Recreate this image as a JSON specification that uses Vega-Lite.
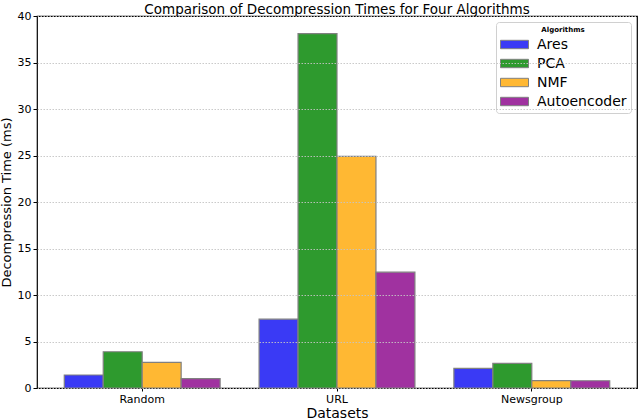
{
  "$schema": "https://vega.github.io/schema/vega-lite/v6.json",
  "width": 600,
  "height": 372,
  "autosize": "none",
  "padding": {"left": 37, "top": 16, "right": 3, "bottom": 31},
  "config": {
    "font": "DejaVu Sans",
    "view": {"stroke": "black", "strokeWidth": 1.2}
  },
  "title": {
    "text": "Comparison of Decompression Times for Four Algorithms",
    "fontSize": 13.5,
    "fontWeight": "normal",
    "color": "black",
    "anchor": "middle",
    "offset": 2,
    "dy": 8
  },
  "data": {
    "values": [
      {"Dataset": "Random", "Algorithm": "Ares", "Time": 1.4},
      {"Dataset": "Random", "Algorithm": "PCA", "Time": 3.9},
      {"Dataset": "Random", "Algorithm": "NMF", "Time": 2.75},
      {"Dataset": "Random", "Algorithm": "Autoencoder", "Time": 1.0},
      {"Dataset": "URL", "Algorithm": "Ares", "Time": 7.4},
      {"Dataset": "URL", "Algorithm": "PCA", "Time": 38.1},
      {"Dataset": "URL", "Algorithm": "NMF", "Time": 24.9},
      {"Dataset": "URL", "Algorithm": "Autoencoder", "Time": 12.45},
      {"Dataset": "Newsgroup", "Algorithm": "Ares", "Time": 2.1},
      {"Dataset": "Newsgroup", "Algorithm": "PCA", "Time": 2.65},
      {"Dataset": "Newsgroup", "Algorithm": "NMF", "Time": 0.8},
      {"Dataset": "Newsgroup", "Algorithm": "Autoencoder", "Time": 0.78}
    ]
  },
  "mark": {"type": "bar", "stroke": "#808080", "strokeWidth": 1.2},
  "encoding": {
    "x": {
      "field": "Dataset",
      "type": "nominal",
      "sort": ["Random", "URL", "Newsgroup"],
      "scale": {"paddingInner": 0.2, "paddingOuter": 0.14},
      "axis": {
        "title": "Datasets",
        "titleFontSize": 14,
        "titleFontWeight": "normal",
        "titleColor": "black",
        "titlePadding": 2,
        "labelAngle": 0,
        "labelFontSize": 11,
        "labelColor": "black",
        "labelPadding": 2,
        "domain": false,
        "tickColor": "black",
        "tickSize": 3
      }
    },
    "xOffset": {
      "field": "Algorithm",
      "type": "nominal",
      "sort": ["Ares", "PCA", "NMF", "Autoencoder"],
      "scale": {"paddingInner": 0, "paddingOuter": 0}
    },
    "y": {
      "field": "Time",
      "type": "quantitative",
      "scale": {"domain": [0, 40]},
      "axis": {
        "title": "Decompression Time (ms)",
        "titleFontSize": 13,
        "titleFontWeight": "normal",
        "titleColor": "black",
        "titlePadding": 4,
        "values": [0, 5, 10, 15, 20, 25, 30, 35, 40],
        "labelFontSize": 11,
        "labelColor": "black",
        "domain": false,
        "tickColor": "black",
        "tickSize": 4,
        "grid": true,
        "gridDash": [1.5, 1.5],
        "gridColor": "#c4c4c4",
        "gridOpacity": 0.9,
        "zindex": 1
      }
    },
    "color": {
      "field": "Algorithm",
      "type": "nominal",
      "sort": ["Ares", "PCA", "NMF", "Autoencoder"],
      "scale": {
        "domain": ["Ares", "PCA", "NMF", "Autoencoder"],
        "range": ["#3a3af5", "#2e9a2e", "#ffb833", "#a032a0"]
      },
      "legend": {
        "title": "Algorithms",
        "titleFontSize": 7,
        "titleFontWeight": "bold",
        "titleColor": "black",
        "titleAnchor": "middle",
        "titlePadding": 4,
        "labelFontSize": 14,
        "labelColor": "black",
        "labelOffset": 22,
        "orient": "top-right",
        "offset": 6,
        "padding": 4,
        "rowPadding": 4,
        "strokeColor": "#d0d0d0",
        "fillColor": "white",
        "cornerRadius": 3,
        "symbolType": "M-1,-0.6H3V0.6H-1Z",
        "symbolSize": 196,
        "symbolStrokeColor": "#808080",
        "symbolStrokeWidth": 1,
        "symbolOpacity": 1
      }
    }
  }
}
